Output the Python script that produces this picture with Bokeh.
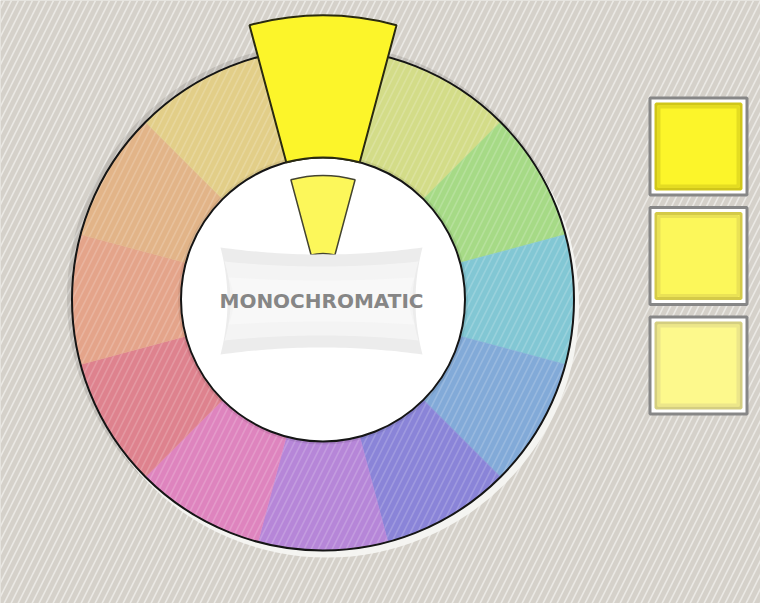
import numpy as np
from bokeh.plotting import figure
from bokeh.models import Range1d, ColumnDataSource
from bokeh.core.properties import value
from bokeh.embed import file_html
from bokeh.resources import INLINE

# ---------------- data ----------------
hues = ["Yellow", "Yellow-green", "Green", "Blue-green", "Blue", "Blue-violet",
        "Violet", "Red-violet", "Red", "Red-orange", "Orange", "Yellow-orange"]
wheel_colors = ["#fcf52a", "#d3dc88", "#a6da86", "#82c7d4", "#82aad8", "#8a84d8",
                "#b686d8", "#de84be", "#de828e", "#e4a48a", "#e2b488", "#e2ce88"]
selected = "Yellow"
mono_colors = ["#fcf52a", "#fcf75a", "#fdf98c"]
mono_border_outer = ["#d0c61a", "#d4ca48", "#d4ce80"]
mono_border_inner = ["#e4dc22", "#eae256", "#ece68a"]
label = "MONOCHROMATIC"

# ---------------- layout ----------------
W, H = 760, 603
CX, CY = 322.5, 304.0
R_OUT, R_IN, R_SEL = 251.0, 142.0, 284.0
R_SMALL_IN, R_SMALL_OUT = 46.0, 124.0
BG = "#d5d1ca"

p = figure(width=W, height=H, x_range=Range1d(0, W), y_range=Range1d(0, H),
           output_backend="svg", toolbar_location=None, min_border=0,
           x_axis_type=None, y_axis_type=None)
p.grid.visible = False
p.outline_line_color = None
p.background_fill_color = BG
p.border_fill_color = BG

# striped background
p.quad(left=0, right=W, bottom=0, top=H, fill_color=BG, line_color=None,
       hatch_pattern="/", hatch_color="#ebe9e5", hatch_scale=14, hatch_weight=1.6)

# shadow and glow
p.circle(x=CX - 2, y=CY + 2, radius=R_OUT + 3, fill_color="#000000",
         fill_alpha=0.10, line_color=None)
p.circle(x=CX + 4, y=CY - 6, radius=R_OUT + 1, fill_color="#f6f5f2",
         fill_alpha=0.95, line_color=None)

# ring segments
ang = np.deg2rad(90.0 - 30.0 * np.arange(len(hues)))
start = ang - np.pi / 12
end = ang + np.pi / 12
src = ColumnDataSource(dict(start=start, end=end, color=wheel_colors, hue=hues))
p.annular_wedge(x=CX, y=CY, inner_radius=R_IN, outer_radius=R_OUT,
                start_angle="start", end_angle="end", fill_color="color",
                line_color="color", line_width=0.5,
                hatch_pattern="/", hatch_color="white", hatch_alpha=0.18,
                hatch_scale=14, hatch_weight=1.6, source=src)

# ring outline
p.circle(x=CX, y=CY, radius=R_OUT, fill_color=None, line_color="#151515", line_width=2)

# inner white disc
p.circle(x=CX, y=CY, radius=R_IN + 3, fill_color="#000000", fill_alpha=0.08, line_color=None)
p.circle(x=CX, y=CY, radius=R_IN, fill_color="white", line_color="#151515", line_width=2)

# selected segment
i = hues.index(selected)
p.annular_wedge(x=CX, y=CY, inner_radius=R_IN, outer_radius=R_SEL,
                start_angle=start[i], end_angle=end[i],
                fill_color=wheel_colors[i], line_color="#2a2a10", line_width=2)

# small inner wedge
p.annular_wedge(x=CX, y=CY, inner_radius=R_SMALL_IN, outer_radius=R_SMALL_OUT,
                start_angle=start[i], end_angle=end[i],
                fill_color=mono_colors[1], line_color="#444430", line_width=1.5)

# pillow-shaped label background
bx, by, hw, hh = 321.0, 302.5, 101.0, 53.5


def pillow(hw, hh, s_h, s_v):
    t = np.linspace(-1, 1, 40)
    top_x = bx + hw * t
    top_y = by + hh - s_h * (1 - t ** 2)
    right_y = by + hh * t[::-1]
    right_x = bx + hw - s_v * (1 - t ** 2)
    bot_x = bx + hw * t[::-1]
    bot_y = by - hh + s_h * (1 - t ** 2)
    left_y = by + hh * t
    left_x = bx - hw + s_v * (1 - t ** 2)
    xs = np.concatenate([top_x, right_x, bot_x, left_x])
    ys = np.concatenate([top_y, right_y, bot_y, left_y])
    return xs, ys


xs, ys = pillow(hw, hh, 7, 7)
p.patch(xs, ys, fill_color="#ececec", line_color=None)
xs, ys = pillow(hw - 4, hh - 14, 5, 6)
p.patch(xs, ys, fill_color="#f4f4f4", line_color=None)
xs, ys = pillow(hw - 8, hh - 30, 3, 5)
p.patch(xs, ys, fill_color="#f8f8f8", line_color=None)

p.text(x=[bx], y=[CY - 1], text=[label], text_align="center", text_baseline="middle",
       text_font=value("DejaVu Sans"), text_font_style="bold", text_font_size="20px",
       text_color="#868686")

# swatches
SX, SY0, STEP = 698.0, 457.0, 109.5
sy = [SY0 - STEP * k for k in range(len(mono_colors))]
sw = ColumnDataSource(dict(y=sy, fill=mono_colors, bo=mono_border_outer, bi=mono_border_inner))
p.rect(x=SX, y="y", width=97, height=97, fill_color="white", line_color="#878787",
       line_width=3, source=sw)
p.rect(x=SX, y="y", width=85, height=85, fill_color="fill", line_color="bo",
       line_width=3, source=sw)
p.rect(x=SX, y="y", width=79, height=79, fill_color=None, line_color="bi",
       line_width=3, source=sw)

open("out.html", "w").write(file_html(p, INLINE))
